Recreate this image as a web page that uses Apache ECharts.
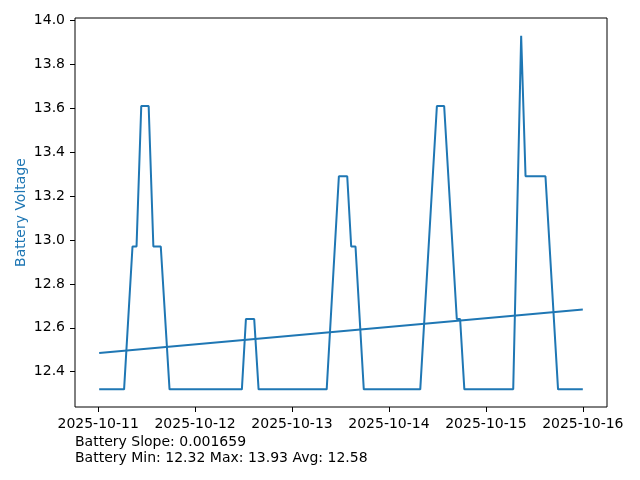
<!DOCTYPE html>
<html>
<head>
<meta charset="utf-8">
<script src="https://cdn.jsdelivr.net/npm/echarts@6/dist/echarts.min.js"></script>
<style>html,body{margin:0;padding:0;background:#fff}#c{width:640px;height:480px}</style>
</head>
<body>
<div id="c"></div>
<script>
const times = [
  '2025-10-11 00:15','2025-10-11 06:25','2025-10-11 08:30','2025-10-11 09:30','2025-10-11 10:40',
  '2025-10-11 12:30','2025-10-11 13:40','2025-10-11 15:30','2025-10-11 17:40',
  '2025-10-12 11:35','2025-10-12 12:35','2025-10-12 14:38','2025-10-12 15:43',
  '2025-10-13 08:35','2025-10-13 11:36','2025-10-13 13:40','2025-10-13 14:39','2025-10-13 15:43','2025-10-13 17:46',
  '2025-10-14 07:45','2025-10-14 11:52','2025-10-14 13:40','2025-10-14 16:48','2025-10-14 17:37','2025-10-14 18:40',
  '2025-10-15 06:46','2025-10-15 08:44','2025-10-15 09:49','2025-10-15 14:45','2025-10-15 17:52',
  '2025-10-16 00:00'
];
const voltage = [
  12.32,12.32,12.97,12.97,13.61,
  13.61,12.97,12.97,12.32,
  12.32,12.64,12.64,12.32,
  12.32,13.29,13.29,12.97,12.97,12.32,
  12.32,13.61,13.61,12.64,12.64,12.32,
  12.32,13.93,13.29,13.29,12.32,
  12.32
];
const trendTimes = ['2025-10-11 00:15','2025-10-16 00:00'];
const trendValues = [12.485, 12.683];
const xTickLabels = ['2025-10-11','2025-10-12','2025-10-13','2025-10-14','2025-10-15','2025-10-16'];
const yTickLabels = [12.4,12.6,12.8,13.0,13.2,13.4,13.6,13.8,14.0];
const footerLines = ['Battery Slope: 0.001659','Battery Min: 12.32 Max: 13.93 Avg: 12.58'];

function ts(s){ const p = s.split(/[- :]/).map(Number); return new Date(p[0],p[1]-1,p[2],p[3]||0,p[4]||0).getTime(); }
const tX = times.map(ts);
const xMin0 = Math.min(...tX), xMax0 = Math.max(...tX);
const xPad = (xMax0 - xMin0) * 0.05;
const yMin0 = Math.min(...voltage), yMax0 = Math.max(...voltage);
const yPad = (yMax0 - yMin0) * 0.05;
const font = 'DejaVu Sans';
const blue = '#1f77b4';
const xTickVals = xTickLabels.map(s => ts(s));

const chart = echarts.init(document.getElementById('c'), null, {renderer:'canvas'});
chart.setOption({
  animation: false,
  backgroundColor: '#fff',
  grid: {left: 75, right: 33, top: 18, bottom: 73, show: true, borderColor: '#000', borderWidth: 1, backgroundColor: 'transparent'},
  xAxis: {
    type: 'value',
    min: xMin0 - xPad, max: xMax0 + xPad,
    axisLine: {show: false},
    splitLine: {show: false},
    axisTick: {show: true, inside: false, length: 5, lineStyle: {color: '#000', width: 1}, customValues: xTickVals},
    axisLabel: {
      customValues: xTickVals,
      margin: 10, color: '#000', fontFamily: font, fontSize: 14,
      formatter: v => { const i = xTickVals.indexOf(v); return i >= 0 ? xTickLabels[i] : ''; }
    }
  },
  yAxis: {
    type: 'value',
    min: yMin0 - yPad, max: yMax0 + yPad,
    name: 'Battery Voltage', nameLocation: 'middle', nameRotate: 90, nameGap: 47, nameMoveOverlap: false,
    nameTextStyle: {color: blue, fontFamily: font, fontSize: 14},
    axisLine: {show: false},
    splitLine: {show: false},
    axisTick: {show: true, inside: false, length: 5, lineStyle: {color: '#000', width: 1}, customValues: yTickLabels},
    axisLabel: {customValues: yTickLabels, margin: 10, color: '#000', fontFamily: font, fontSize: 14, formatter: v => v.toFixed(1)}
  },
  series: [
    {type: 'line', data: tX.map((t,i) => [t, voltage[i]]), showSymbol: false, lineStyle: {color: blue, width: 2}, itemStyle: {color: blue}},
    {type: 'line', data: trendTimes.map((s,i) => [ts(s), trendValues[i]]), showSymbol: false, lineStyle: {color: blue, width: 2}, itemStyle: {color: blue}}
  ],
  graphic: footerLines.map((t,i) => ({
    type: 'text', left: 75, top: 435 + i*16,
    style: {text: t, fill: '#000', font: '14px "DejaVu Sans"'}
  }))
});
</script>
</body>
</html>
